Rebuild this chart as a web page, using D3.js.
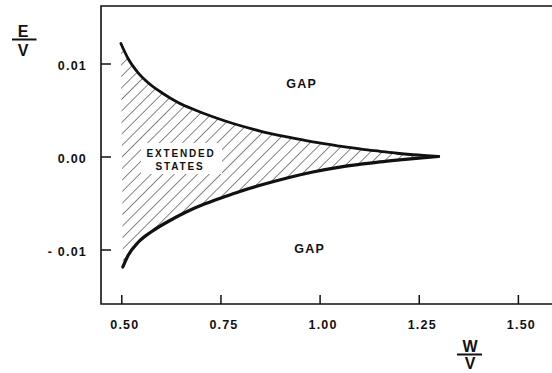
<!DOCTYPE html>
<html><head><meta charset="utf-8">
<script src="https://cdn.jsdelivr.net/npm/d3@7"></script>
<style>
html,body{margin:0;padding:0;background:#fff;}
svg{display:block;}
text{font-family:"Liberation Sans",Arial,sans-serif;fill:#111;}
</style></head><body>
<script>
// Data (W/V, E/V)
const upperW = [0.499,0.517,0.542,0.567,0.603,0.643,0.686,0.729,0.762,0.799,0.850,0.918,0.983,1.051,1.109,1.152,1.195,1.236,1.300];
const upperE = [0.01215,0.01054,0.00903,0.00796,0.00683,0.00581,0.00500,0.00430,0.00382,0.00333,0.00274,0.00210,0.00156,0.00111,0.00077,0.00056,0.00035,0.00019,0.0];
const lowerW = [0.504,0.517,0.542,0.577,0.618,0.661,0.711,0.762,0.799,0.850,0.918,0.983,1.051,1.109,1.152,1.195,1.236,1.300];
const lowerE = [-0.01188,-0.01065,-0.00925,-0.00806,-0.00699,-0.00602,-0.00509,-0.00430,-0.00376,-0.00310,-0.00231,-0.00167,-0.00115,-0.00080,-0.00057,-0.00038,-0.00022,0.0];
const xTicks = [0.50,0.75,1.00,1.25,1.50];
const xTickLabels = ["0.50","0.75","1.00","1.25","1.50"];
const yTicks = [-0.01,0.00,0.01];
const yTickLabels = ["- 0.01","0.00","0.01"];
const regionLabels = ["GAP","GAP"];
const regionLabelW = [0.955,0.975];
const regionLabelE = [0.00785,-0.00985];

const W = 552, H = 373;
const svg = d3.select("body").append("svg").attr("width",W).attr("height",H);

const x = d3.scaleLinear().domain([0.5,1.5]).range([121.3,517.9]);
const y = d3.scaleLinear().domain([-0.01,0.01]).range([249.5,63.5]);
const frameL = 101, frameT = 6, frameB = 304, frameR = 560;

const upper = upperW.map((w,i)=>[w,upperE[i]]);
const lower = lowerW.map((w,i)=>[w,lowerE[i]]);

// hatch pattern
const defs = svg.append("defs");
const hs = 8.2;
const pat = defs.append("pattern").attr("id","hatch").attr("patternUnits","userSpaceOnUse")
  .attr("width",hs).attr("height",hs).attr("patternTransform","rotate(45)");
pat.append("line").attr("x1",0).attr("y1",0).attr("x2",0).attr("y2",hs)
  .attr("stroke","#222").attr("stroke-width",1.1);

const line = d3.line().x(d=>x(d[0])).y(d=>y(d[1])).curve(d3.curveMonotoneX);

// hatched region between the two curves
svg.append("path").attr("d", line(upper) + "L" + line(lower.slice().reverse()).slice(1) + "Z")
  .attr("fill","url(#hatch)").attr("stroke","none");

// white box behind label
svg.append("rect").attr("x",141).attr("y",143).attr("width",81).attr("height",31).attr("fill","#fff");
svg.append("text").attr("x",181).attr("y",157).attr("text-anchor","middle")
  .attr("font-size",10).attr("font-weight","bold").attr("letter-spacing",1.8).text("EXTENDED");
svg.append("text").attr("x",180).attr("y",170).attr("text-anchor","middle")
  .attr("font-size",10).attr("font-weight","bold").attr("letter-spacing",1.8).text("STATES");

// curves
svg.append("path").attr("d",line(upper)).attr("fill","none").attr("stroke","#111").attr("stroke-width",2.8).attr("stroke-linecap","round");
svg.append("path").attr("d",line(lower)).attr("fill","none").attr("stroke","#111").attr("stroke-width",3.2).attr("stroke-linecap","round");

// frame
svg.append("path").attr("d",`M${frameR},${frameT}H${frameL}V${frameB}H${frameR}`)
  .attr("fill","none").attr("stroke","#111").attr("stroke-width",1.6);

// axes
const xAxis = d3.axisBottom(x).tickValues(xTicks).tickSizeInner(-9).tickSizeOuter(0).tickPadding(16)
  .tickFormat((d,i)=>xTickLabels[i]);
const gx = svg.append("g").attr("transform",`translate(0,${frameB})`).call(xAxis);
gx.select(".domain").remove();
gx.selectAll(".tick line").attr("stroke","#111").attr("stroke-width",1.5);
gx.selectAll(".tick text").attr("dx",3).attr("font-size",12.5).attr("font-weight","bold")
  .attr("letter-spacing",1.2).attr("fill","#111").attr("font-family",'"Liberation Sans",Arial,sans-serif');

const yAxis = d3.axisLeft(y).tickValues(yTicks).tickSizeInner(-10).tickSizeOuter(0).tickPadding(14)
  .tickFormat((d,i)=>yTickLabels[i]);
const gy = svg.append("g").attr("transform",`translate(${frameL},0)`).call(yAxis);
gy.select(".domain").remove();
gy.selectAll(".tick line").attr("stroke","#111").attr("stroke-width",1.5);
gy.selectAll(".tick text").attr("dy","0.5em").attr("font-size",12.5).attr("font-weight","bold")
  .attr("letter-spacing",1.2).attr("fill","#111").attr("font-family",'"Liberation Sans",Arial,sans-serif');

// GAP labels
regionLabels.forEach((t,i)=>{
  svg.append("text").attr("x",x(regionLabelW[i])).attr("y",y(regionLabelE[i])+4.5)
    .attr("text-anchor","middle").attr("font-size",12.5).attr("font-weight","bold")
    .attr("letter-spacing",1.3).text(t);
});

// axis title fractions
function frac(cx, topText, botText, topY, lineY, botY, x1, x2){
  svg.append("text").attr("x",cx).attr("y",topY).attr("text-anchor","middle")
    .attr("font-size",16).attr("font-weight","bold").text(topText);
  svg.append("line").attr("x1",x1).attr("x2",x2).attr("y1",lineY).attr("y2",lineY)
    .attr("stroke","#111").attr("stroke-width",2);
  svg.append("text").attr("x",cx).attr("y",botY).attr("text-anchor","middle")
    .attr("font-size",16).attr("font-weight","bold").text(botText);
}
frac(23,"E","V",37,39.5,55.5,12,36.5);
frac(470,"W","V",352,354.5,369,457,482);
</script>
</body></html>
